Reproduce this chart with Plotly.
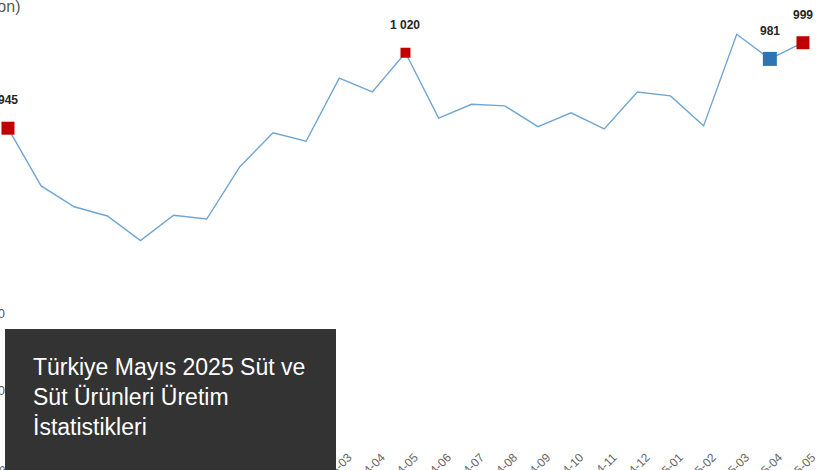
import plotly.graph_objects as go

months = ["2023-05", "2023-06", "2023-07", "2023-08", "2023-09", "2023-10", "2023-11",
          "2023-12", "2024-01", "2024-02", "2024-03", "2024-04", "2024-05", "2024-06",
          "2024-07", "2024-08", "2024-09", "2024-10", "2024-11", "2024-12", "2025-01",
          "2025-02", "2025-03", "2025-04", "2025-05"]
milk = [940, 865, 838, 826, 794, 827, 822, 890, 934, 923, 1005, 987, 1038, 953,
        971, 969, 942, 960, 939, 987, 982, 943, 1062, 1030, 1051]

highlight_idx = [0, 12, 23, 24]
highlight_labels = ["945", "1 020", "981", "999"]
highlight_colors = ["#c00000", "#c00000", "#2e75b6", "#c00000"]
highlight_sizes = [13, 10, 14, 13]

ytick_vals = [500, 600, 700]
ytick_text = ["500", "600", "700"]

axis_title = "(Bin ton)"
box_title = "Türkiye Mayıs 2025 Süt ve<br>Süt Ürünleri Üretim<br>İstatistikleri"

L, R, T, B = 6, 0, 0, 0
W, H = 820, 470
pw = W - L - R

def px_x(p):
    return (p - L) / pw

def px_y(p):
    return 1 - (p - T) / (H - T - B)

fig = go.Figure()
fig.add_trace(go.Scatter(
    x=months, y=milk, mode="lines",
    line=dict(color="#6fa6d3", width=1.4),
    hoverinfo="x+y", showlegend=False, cliponaxis=False,
))
fig.add_trace(go.Scatter(
    x=[months[i] for i in highlight_idx],
    y=[milk[i] for i in highlight_idx],
    mode="markers",
    marker=dict(symbol="square", size=highlight_sizes, color=highlight_colors,
                opacity=1, line=dict(width=0)),
    showlegend=False, cliponaxis=False,
))

for i, lab in zip(highlight_idx, highlight_labels):
    fig.add_annotation(x=months[i], y=milk[i], text="<b>" + lab + "</b>", showarrow=False,
                       yshift=28, font=dict(family="Liberation Sans, Arial", size=12,
                                            color="#262626"))

fig.add_annotation(xref="paper", yref="paper", x=px_x(22), y=px_y(6),
                   xanchor="right", yanchor="middle", text=axis_title, showarrow=False,
                   font=dict(family="Liberation Sans, Arial", size=16, color="#595959"))

fig.add_shape(type="rect", xref="paper", yref="paper",
              x0=px_x(5), x1=px_x(336), y0=px_y(480), y1=px_y(329),
              fillcolor="#333333", line=dict(width=0), layer="above")

fig.add_annotation(xref="paper", yref="paper", x=px_x(31), y=px_y(352),
                   xanchor="left", yanchor="top", align="left", text=box_title,
                   showarrow=False,
                   font=dict(family="Liberation Sans, Arial", size=23, color="#ffffff"))

fig.update_layout(
    width=W, height=H,
    margin=dict(l=L, r=R, t=T, b=B, pad=0),
    plot_bgcolor="white", paper_bgcolor="white",
    font=dict(family="Liberation Sans, Arial", color="#595959"),
    xaxis=dict(type="category", range=[-0.06, 24.514], anchor="free",
               position=1 - 447 / 470, showgrid=False, zeroline=False,
               showline=False, ticks="", tickangle=-45, ticklabelshift=9,
               tickfont=dict(size=12, color="#666666"), automargin=False),
    yaxis=dict(range=[496.1, 1106.5], tickvals=ytick_vals, ticktext=ytick_text,
               showgrid=False, zeroline=False, showline=False, ticks="",
               tickfont=dict(size=13, color="#595959"), automargin=False),
)

fig.write_html("out.html", config={"displayModeBar": False},
               post_script="document.body.style.margin='0';document.body.style.overflow='hidden';")
